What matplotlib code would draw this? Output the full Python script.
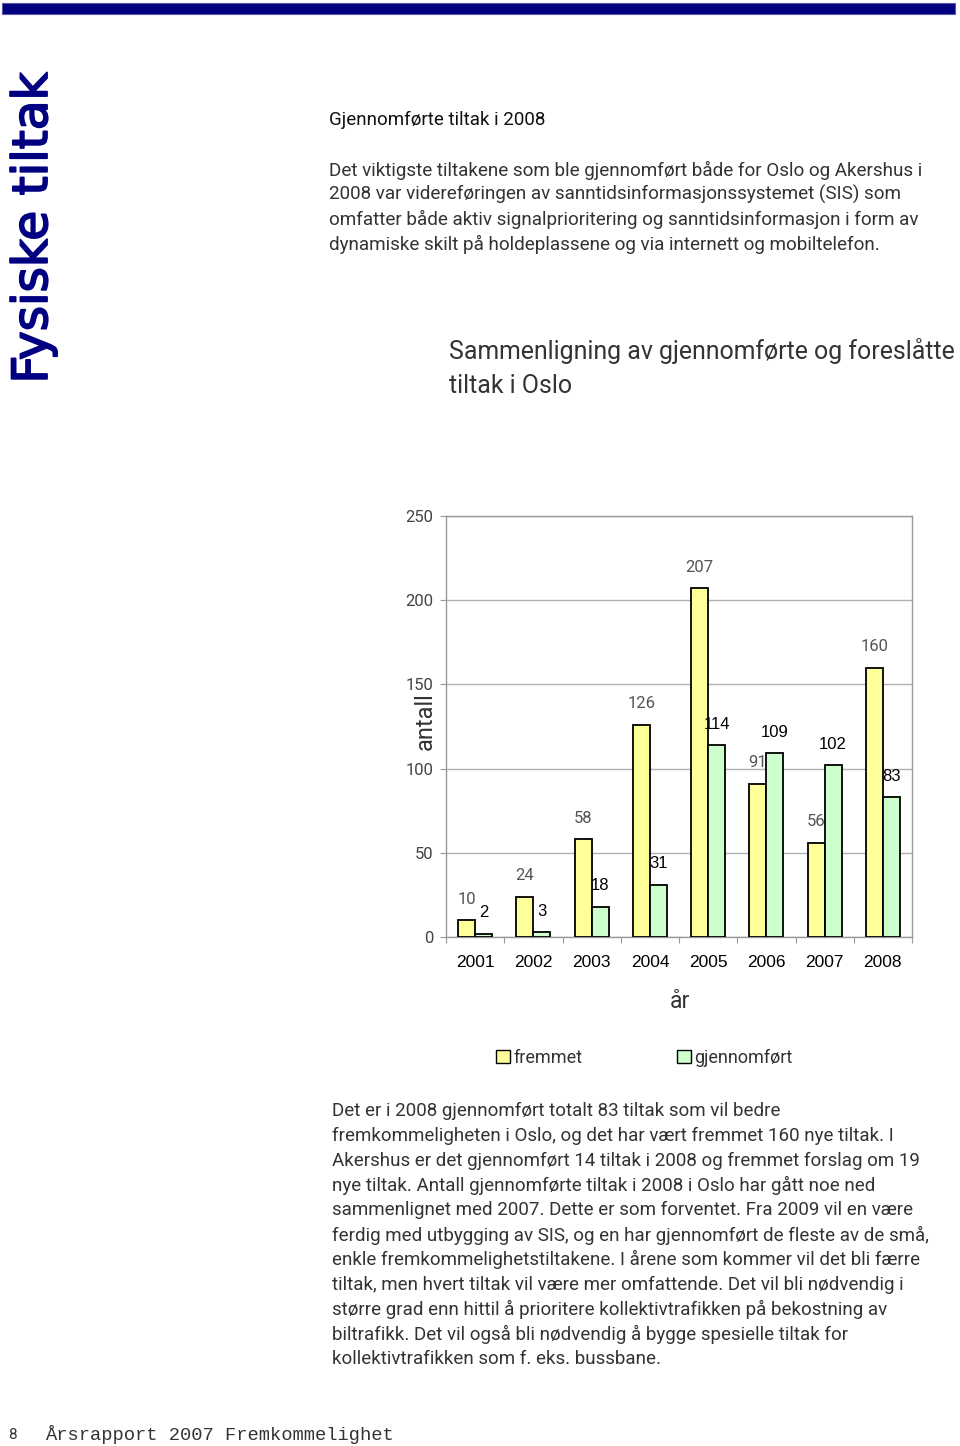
import matplotlib
matplotlib.use("Agg")
import matplotlib.pyplot as plt
from matplotlib.patches import Patch, Rectangle
import matplotlib.patheffects as pe
import numpy as np

# ---- data ----
years = ["2001", "2002", "2003", "2004", "2005", "2006", "2007", "2008"]
fremmet = [10, 24, 58, 126, 207, 91, 56, 160]
gjennomfort = [2, 3, 18, 31, 114, 109, 102, 83]
series_names = ["fremmet", "gjennomført"]
y_ticks = [0, 50, 100, 150, 200, 250]

W, H = 960, 1446
fig = plt.figure(figsize=(W / 100, H / 100), dpi=100)

def fx(x):
    return x / W

def fy(y):
    return 1 - y / H

DIN = ["Roboto", "DejaVu Sans"]
NAVY = "#000080"
TXT = "#333333"

# top bar
fig.patches.append(Rectangle((fx(2), fy(14)), fx(953), 11 / H, transform=fig.transFigure,
                             facecolor=NAVY, edgecolor="#5a5aa8", linewidth=0.8))

# vertical section title
fig.text(fx(33), fy(228), "Fysiske tiltak", rotation=90, ha="center", va="center",
         color=NAVY, fontsize=35, family=["DejaVu Sans"],
         path_effects=[pe.withStroke(linewidth=1.3, foreground=NAVY)])

# heading + intro paragraph
fig.text(fx(329), fy(120), "Gjennomførte tiltak i 2008", ha="left", va="center",
         fontsize=13.5, color="#111111", family=DIN)
intro = ["Det viktigste tiltakene som ble gjennomført både for Oslo og Akershus i",
         "2008 var videreføringen av sanntidsinformasjonssystemet (SIS) som",
         "omfatter både aktiv signalprioritering og sanntidsinformasjon i form av",
         "dynamiske skilt på holdeplassene og via internett og mobiltelefon."]
for i, line in enumerate(intro):
    fig.text(fx(329), fy(170 + i * 24.7), line, ha="left", va="center",
             fontsize=13.6, color=TXT, family=DIN)

# chart title
fig.text(fx(449), fy(351), "Sammenligning av gjennomførte og foreslåtte", ha="left",
         va="center", fontsize=17.9, color=TXT, family=DIN)
fig.text(fx(449), fy(386), "tiltak i Oslo", ha="left", va="center", fontsize=17.9,
         color=TXT, family=DIN)

# ---- chart ----
ax = fig.add_axes([fx(446), fy(937), (912 - 446) / W, (937 - 516) / H])
x = np.arange(len(years)) + 0.5
bw = 0.29
off = 0.145
ax.bar(x - off, fremmet, bw, color="#FFFF99", edgecolor="black", linewidth=1.3,
       zorder=3)
ax.bar(x + off, gjennomfort, bw, color="#CCFFCC", edgecolor="black", linewidth=1.3,
       zorder=3)
for xi, v in zip(x - off, fremmet):
    ax.annotate(str(v), (xi, v), xytext=(0, 15), textcoords="offset points",
                ha="center", va="center", fontsize=12, color="#555555", family=DIN,
                zorder=5)
for xi, v in zip(x + off, gjennomfort):
    ax.annotate(str(v), (xi, v), xytext=(0, 15), textcoords="offset points",
                ha="center", va="center", fontsize=12, color="black",
                family=["Liberation Sans"], zorder=5)

ax.set_xlim(0, len(years))
ax.set_ylim(0, 250)
ax.set_yticks(y_ticks)
ax.set_yticklabels([str(t) for t in y_ticks], fontsize=12, color="#444444", family=DIN)
ax.set_xticks(np.arange(len(years) + 1))
ax.set_xticklabels([])
ax.set_xticks(x, minor=True)
ax.set_xticklabels(years, minor=True, fontsize=12.5, family=["Liberation Sans"],
                   color="black")
ax.tick_params(axis="x", which="major", length=4, color="#999999", direction="out")
ax.tick_params(axis="x", which="minor", length=0, pad=13)
ax.tick_params(axis="y", length=4, color="#999999", pad=5)
ax.yaxis.grid(True, color="#b0b0b0", linewidth=1.0, zorder=0)
ax.set_axisbelow(True)
for s in ax.spines.values():
    s.set_color("#999999")
    s.set_linewidth(1.0)

fig.text(fx(425), fy(721), "antall", rotation=90, ha="center", va="center",
         fontsize=17, color=TXT, family=DIN)
fig.text(fx(680), fy(1002), "år", ha="center", va="center", fontsize=16.5, color=TXT,
         family=DIN)

handles = [Patch(facecolor="#FFFF99", edgecolor="black", linewidth=1.0),
           Patch(facecolor="#CCFFCC", edgecolor="black", linewidth=1.0)]
leg = fig.legend(handles, series_names, loc="center left",
                 bbox_to_anchor=(fx(480), fy(1058)), ncol=2, frameon=False,
                 handlelength=0.75, handleheight=0.75, handletextpad=0.2,
                 columnspacing=5.25, prop={"family": DIN, "size": 13})
for t in leg.get_texts():
    t.set_color(TXT)

# closing paragraph
outro = ["Det er i 2008 gjennomført totalt 83 tiltak som vil bedre",
         "fremkommeligheten i Oslo, og det har vært fremmet 160 nye tiltak. I",
         "Akershus er det gjennomført 14 tiltak i 2008 og fremmet forslag om 19",
         "nye tiltak. Antall gjennomførte tiltak i 2008 i Oslo har gått noe ned",
         "sammenlignet med 2007. Dette er som forventet. Fra 2009 vil en være",
         "ferdig med utbygging av SIS, og en har gjennomført de fleste av de små,",
         "enkle fremkommelighetstiltakene. I årene som kommer vil det bli færre",
         "tiltak, men hvert tiltak vil være mer omfattende. Det vil bli nødvendig i",
         "større grad enn hittil å prioritere kollektivtrafikken på bekostning av",
         "biltrafikk. Det vil også bli nødvendig å bygge spesielle tiltak for",
         "kollektivtrafikken som f. eks. bussbane."]
for i, line in enumerate(outro):
    fig.text(fx(332), fy(1111 + i * 24.8), line, ha="left", va="center",
             fontsize=13.5, color=TXT, family=DIN)

# footer
fig.text(fx(8), fy(1435), "8", ha="left", va="center", fontsize=11, color=TXT,
         family=DIN)
fig.text(fx(45), fy(1435), "Årsrapport 2007 Fremkommelighet", ha="left", va="center",
         fontsize=13.5, color=TXT, family=["Liberation Mono"])

fig.savefig("out.png", dpi=100)
